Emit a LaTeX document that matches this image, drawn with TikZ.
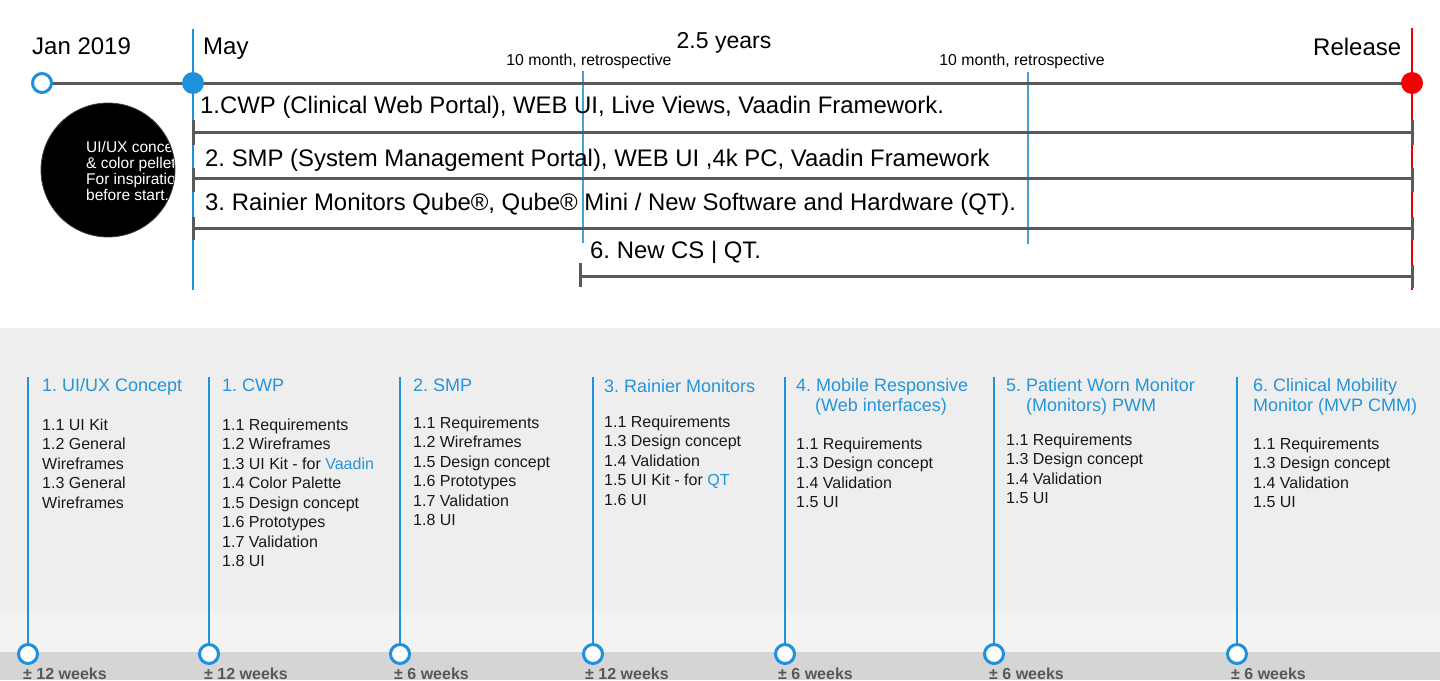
\documentclass[tikz,border=0pt]{standalone}
\usepackage{fontspec}
\setmainfont{Liberation Sans}
\definecolor{hblue}{RGB}{38,148,216}
\definecolor{lblue}{RGB}{30,144,220}
\definecolor{rblue}{RGB}{70,160,212}
\definecolor{lgray}{RGB}{90,90,90}
\definecolor{wgray}{RGB}{88,88,88}
\definecolor{panelA}{RGB}{238,238,238}
\definecolor{panelB}{RGB}{243,243,243}
\definecolor{panelC}{RGB}{213,213,213}
\definecolor{relred}{RGB}{245,0,0}
\newcommand\pxfont[1]{\fontsize{#1}{#1}\selectfont}
\AtBeginDocument{\frenchspacing}
\begin{document}
\begin{tikzpicture}[x=1pt,y=-1pt,
  txt/.style={inner sep=0pt, anchor=base west, text=black},
  big/.style={txt, font=\pxfont{24}},
  bartxt/.style={txt, font=\pxfont{23.9}},
  smalltxt/.style={txt, anchor=base, font=\pxfont{15.8}},
  circtxt/.style={txt, text=white, font=\pxfont{15.5}},
  head/.style={txt, text=hblue, font=\pxfont{18}},
  item/.style={txt, text=black!90, font=\pxfont{16}},
  weeks/.style={txt, text=wgray, font=\bfseries\pxfont{16}},
  gline/.style={draw=lgray, line width=3pt},
  vblue/.style={draw=lblue, line width=1.6pt},
  cblue/.style={draw=lblue, line width=2pt},
  hollow/.style={circle, draw=lblue, fill=white, line width=3pt, minimum size=19pt, inner sep=0pt},
  filled/.style={circle, fill=lblue, minimum size=22pt, inner sep=0pt},
  redfilled/.style={circle, fill=relred, minimum size=22pt, inner sep=0pt}
]
\useasboundingbox (0,0) rectangle (1440,680);

% ---------- lower panel ----------
\fill[panelA] (0,328) rectangle (1440,611);
\fill[panelB] (0,611) rectangle (1440,652);
\fill[panelC] (0,652) rectangle (1440,680);

% ---------- top timeline ----------
\coordinate (jan) at (42,83);
\coordinate (may) at (193,83);
\coordinate (rel) at (1412,83);
\coordinate (maytop) at (193,29);
\coordinate (maybot) at (193,290);
\coordinate (reltop) at (1412,28);
\coordinate (relbot) at (1412,290);
\coordinate (r1top) at (583,71);
\coordinate (r1bot) at (583,243);
\coordinate (r2top) at (1028,72);
\coordinate (r2bot) at (1028,244);

\draw[vblue] (maytop) -- (maybot);
\draw[draw=relred, line width=1.4pt] (reltop) -- (relbot);
\draw[draw=rblue, line width=1.6pt] (r1top) -- (r1bot);
\draw[draw=rblue, line width=1.6pt] (r2top) -- (r2bot);

\draw[gline] (jan) -- (rel);

% bars with end ticks
\foreach \y/\a/\b [count=\i] in {132/120/145, 178/168/192, 228/217/240}{
  \coordinate (b\i l) at (193,\y);
  \coordinate (b\i r) at (1413,\y);
  \draw[gline] (b\i l) -- (b\i r);
  \draw[gline] (193,\a) -- (193,\b);
  \draw[gline] (1412,\a) -- (1412,\b);
}
\coordinate (b6l) at (580,276);
\coordinate (b6r) at (1412,276);
\draw[gline] (b6l) -- (b6r);
\draw[gline] (580,263) -- (580,287);
\draw[gline] (1412,265) -- (1412,288);

\node[hollow] (janc) at (jan) {};
\node[filled] (mayc) at (may) {};
\node[redfilled] (relc) at (rel) {};

% labels
\node[big] (tjan) at (32,54) {Jan 2019};
\node[big] (tmay) at (203,54) {May};
\node[big] (trel) at (1313,55) {Release};
\node[txt, anchor=base, font=\pxfont{23}] (tyears) at (724,48) {2.5 years};
\node[smalltxt] (tret1) at (589,65) {10 month, retrospective};
\node[smalltxt] (tret2) at (1022,65) {10 month, retrospective};

\node[bartxt] (bt1) at (200,113) {1.CWP (Clinical Web Portal), WEB UI, Live Views, Vaadin Framework.};
\node[bartxt] (bt2) at (205,166) {2. SMP (System Management Portal), WEB UI ,4k PC, Vaadin Framework};
\node[bartxt] (bt3) at (205,210) {3. Rainier Monitors Qube®, Qube® Mini / New Software and Hardware (QT).};
\node[bartxt] (bt6) at (590,258) {6. New CS | QT.};

% black circle
\node[circle, fill=black, draw=black!75, line width=0.8pt, minimum size=134pt, inner sep=0pt] (bc) at (108,170) {};
\begin{scope}
  \clip (108,170) circle (66pt);
  \foreach \t [count=\i from 0] in {UI/UX concept, \& color pellet, For inspiration, before start.}{
    \node[circtxt] (ct\i) at (86,152+16*\i) {\t};
  }
\end{scope}

% ---------- lower columns ----------
\foreach \x/\n in {28/1, 209/2, 400/3, 593/4, 785/5, 994/6, 1237/7}{
  \coordinate (ctop\n) at (\x,377);
  \node[hollow] (cc\n) at (\x,654) {};
  \draw[cblue] (ctop\n) -- (cc\n.north);
}

% headings
\node[head] (h1) at (42,391) {1. UI/UX Concept};
\node[head] (h2) at (222,391) {1. CWP};
\node[head] (h3) at (413,391) {2. SMP};
\node[head] (h4) at (604,392) {3. Rainier Monitors};
\node[head] (h5a) at (796,391) {4. Mobile Responsive};
\node[head] (h5b) at (815,411) {(Web interfaces)};
\node[head] (h6a) at (1006,391) {5. Patient Worn Monitor};
\node[head] (h6b) at (1026,411) {(Monitors) PWM};
\node[head] (h7a) at (1253,391) {6. Clinical Mobility};
\node[head] (h7b) at (1253,411) {Monitor (MVP CMM)};

% items
\foreach \t [count=\i from 0] in {1.1 UI Kit, 1.2 General, Wireframes, 1.3 General, Wireframes}{
  \node[item] (i1-\i) at (42,430+19.5*\i) {\t};
}
\foreach \t [count=\i from 0] in {1.1 Requirements, 1.2 Wireframes, {1.3 UI Kit - for \textcolor{hblue}{Vaadin}}, 1.4 Color Palette, 1.5 Design concept, 1.6 Prototypes, 1.7 Validation, 1.8 UI}{
  \node[item] (i2-\i) at (222,430+19.5*\i) {\t};
}
\foreach \t [count=\i from 0] in {1.1 Requirements, 1.2 Wireframes, 1.5 Design concept, 1.6 Prototypes, 1.7 Validation, 1.8 UI}{
  \node[item] (i3-\i) at (413,428+19.5*\i) {\t};
}
\foreach \t [count=\i from 0] in {1.1 Requirements, 1.3 Design concept, 1.4 Validation, {1.5 UI Kit - for \textcolor{hblue}{QT}}, 1.6 UI}{
  \node[item] (i4-\i) at (604,427+19.5*\i) {\t};
}
\foreach \t [count=\i from 0] in {1.1 Requirements, 1.3 Design concept, 1.4 Validation, 1.5 UI}{
  \node[item] (i5-\i) at (796,449+19.5*\i) {\t};
}
\foreach \t [count=\i from 0] in {1.1 Requirements, 1.3 Design concept, 1.4 Validation, 1.5 UI}{
  \node[item] (i6-\i) at (1006,445+19.5*\i) {\t};
}
\foreach \t [count=\i from 0] in {1.1 Requirements, 1.3 Design concept, 1.4 Validation, 1.5 UI}{
  \node[item] (i7-\i) at (1253,449+19.5*\i) {\t};
}

% weeks
\node[weeks] (w1) at (23,679) {± 12 weeks};
\node[weeks] (w2) at (204,679) {± 12 weeks};
\node[weeks] (w3) at (394,679) {± 6 weeks};
\node[weeks] (w4) at (585,679) {± 12 weeks};
\node[weeks] (w5) at (778,679) {± 6 weeks};
\node[weeks] (w6) at (989,679) {± 6 weeks};
\node[weeks] (w7) at (1231,679) {± 6 weeks};
\end{tikzpicture}
\end{document}
